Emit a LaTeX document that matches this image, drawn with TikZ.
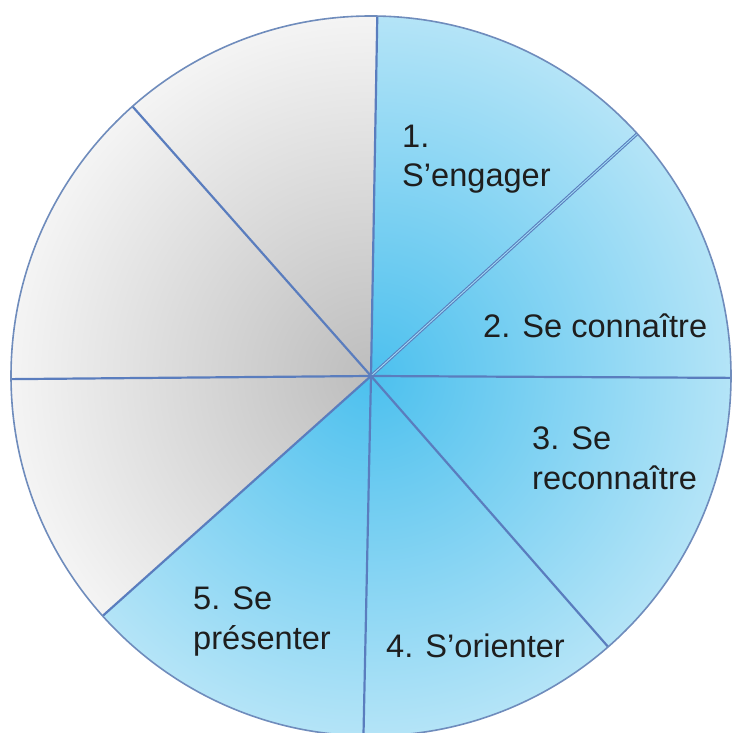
\documentclass[tikz,border=0pt]{standalone}
\usepackage{fontspec}
\setmainfont{Liberation Sans}
\definecolor{blueIn}{HTML}{4CC0EE}
\definecolor{blueOut}{HTML}{B4E4F7}
\definecolor{grayIn}{HTML}{BDBDBD}
\definecolor{grayOut}{HTML}{F4F4F4}
\definecolor{spokeCol}{HTML}{5A7DBE}
\definecolor{rimCol}{HTML}{6F8CBC}
\definecolor{txtCol}{HTML}{1E1E1E}
\begin{document}
\begin{tikzpicture}[x=1bp,y=1bp,
  spoke/.style={draw=spokeCol, line width=2.2bp},
  rim/.style={draw=rimCol, line width=1.6bp},
  lbl/.style={anchor=base west, inner sep=0pt, text=txtCol,
    font=\fontsize{32.7}{39}\selectfont}]
\useasboundingbox (0,0) rectangle (732,733);
\clip (0,0) rectangle (732,733);
\coordinate (c) at (371,357);
\def\R{360}
% sectors: start angle / end angle / inner colour / outer colour
\foreach \a/\b/\ic/\oc in {42.3/89/blueIn/blueOut, -0.3/42.3/blueIn/blueOut,
   -48.8/-0.3/blueIn/blueOut, -91.2/-48.8/blueIn/blueOut,
   -138.2/-91.2/blueIn/blueOut, 180.5/221.8/grayIn/grayOut,
   131.5/180.5/grayIn/grayOut, 89/131.5/grayIn/grayOut}{
  \begin{scope}
    \clip (c) -- ++(\a:\R) arc[start angle=\a, end angle=\b, radius=\R] -- cycle;
    \shade[inner color=\ic, outer color=\oc] (c) circle (\R);
  \end{scope}
}
% spoke end points
\path (c) ++(89:\R) coordinate (p1);
\path (c) ++(42.3:\R) coordinate (p2);
\path (c) ++(-0.3:\R) coordinate (p3);
\path (c) ++(-48.8:\R) coordinate (p4);
\path (c) ++(-91.2:\R) coordinate (p5);
\path (c) ++(221.8:\R) coordinate (p6);
\path (c) ++(180.5:\R) coordinate (p7);
\path (c) ++(131.5:\R) coordinate (p8);
\draw[spoke] (c) -- (p1);
\draw[draw=spokeCol, line width=1.1bp, double=blueOut!80!blueIn, double distance=0.9bp] (c) -- (p2);
\draw[spoke] (c) -- (p3);
\draw[spoke] (c) -- (p4);
\draw[spoke] (c) -- (p5);
\draw[spoke] (c) -- (p6);
\draw[spoke] (c) -- (p7);
\draw[spoke] (c) -- (p8);
\draw[rim] (c) circle (\R);
% labels
\node[lbl] (l1a) at (402,585) {1.};
\node[lbl] (l1b) at (402,546) {S’engager};
\node[lbl] (l2) at (483,395) {2. Se connaître};
\node[lbl] (l3a) at (532,283) {3. Se};
\node[lbl] (l3b) at (532,243) {reconnaître};
\node[lbl] (l4) at (386,75) {4. S’orienter};
\node[lbl] (l5a) at (193,123) {5. Se};
\node[lbl] (l5b) at (193,83) {présenter};
\end{tikzpicture}
\end{document}
